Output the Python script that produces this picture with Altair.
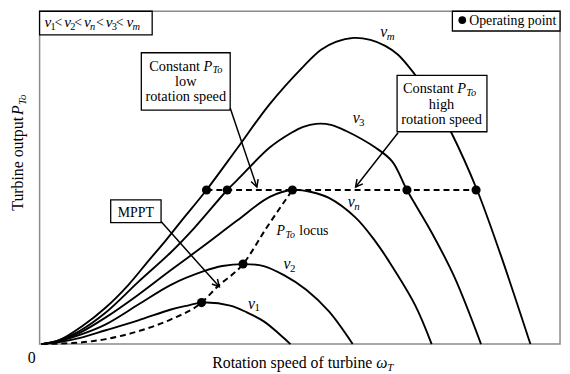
import math
import altair as alt
import pandas as pd

FONT = "Liberation Serif"

# ---- curve points (x: rotation speed, y: turbine output) ----
v1_x = [2, 20, 40, 67, 100, 133, 150, 165, 193, 210, 227, 243, 254]
v1_y = [0, 2, 6, 14, 24, 35, 39, 42, 39, 32, 23, 10, 0]
v2_x = [2, 20, 40, 67, 100, 133, 167, 185, 206, 227, 247, 270, 293, 317]
v2_y = [0, 3, 9, 20, 40, 60, 74, 79, 81, 79, 70, 55, 33, 0]
vn_x = [2, 20, 40, 67, 100, 133, 167, 200, 233, 256, 275, 293, 320, 340, 353, 380, 397]
vn_y = [0, 3, 11, 27, 50, 75, 100, 125, 149, 156, 154, 148, 128, 104, 85, 40, 0]
v3_x = [2, 20, 40, 67, 100, 133, 157, 190, 200, 233, 255, 267, 280, 295, 310, 340, 357, 372, 397, 420, 447]
v3_y = [0, 4, 13, 32, 63, 93, 118, 156, 166, 199, 214, 220, 223, 222, 216, 199, 185, 156, 113, 68, 0]
vm_x = [2, 20, 43, 67, 90, 110, 127, 143, 169, 200, 233, 267, 285, 300, 318, 335, 350, 363, 380, 400, 417, 443, 467, 497]
vm_y = [0, 4, 18, 37, 60, 84, 104, 124, 156, 198, 243, 281, 298, 306, 310, 308, 302, 293, 273, 245, 214, 156, 90, 0]
locus_x = [2, 33, 67, 100, 133, 164, 180, 206, 230, 256]
locus_y = [0, 1, 5, 13, 25, 42, 58, 81, 118, 156]
const_x = [169, 442]
const_y = [156, 156]

# operating points
op_x = [164, 206, 256, 169, 190, 372, 442]
op_y = [42, 81, 156, 156, 156, 156, 156]

# annotation boxes (x, x2, y, y2)
box_x = [0, 418, 103, 362, 72]
box_x2 = [114, 527, 193, 453, 123]
box_y = [313, 317, 237, 215, 123]
box_y2 = [337, 337, 295, 272, 146]

# arrows (start -> tip)
arr_x = [193, 363, 123]
arr_y = [239, 214, 124]
arr_x2 = [220, 320, 182]
arr_y2 = [159, 159, 58]

XS = alt.Scale(domain=[0, 527], nice=False, zero=False)
YS = alt.Scale(domain=[0, 337], nice=False, zero=False)


def enc(ch):
    return ch.encode(
        x=alt.X("x:Q", scale=XS, axis=None),
        y=alt.Y("y:Q", scale=YS, axis=None),
    )


def curve(xs, ys, dash=None, interp="catmull-rom"):
    kw = dict(interpolate=interp, color="black", strokeWidth=1.9)
    if dash:
        kw["strokeDash"] = dash
        kw["strokeWidth"] = 2
    return enc(alt.Chart(pd.DataFrame({"x": xs, "y": ys})).mark_line(**kw))


layers = []
for xs, ys in [(v1_x, v1_y), (v2_x, v2_y), (vn_x, vn_y), (v3_x, v3_y), (vm_x, vm_y)]:
    layers.append(curve(xs, ys))
layers.append(curve(locus_x, locus_y, dash=[6, 4], interp="monotone"))
layers.append(curve(const_x, const_y, dash=[6, 4], interp="linear"))

# boxes drawn over the curves
boxes = pd.DataFrame({"x": box_x, "x2": box_x2, "y": box_y, "y2": box_y2})
layers.append(
    alt.Chart(boxes).mark_rect(fill="white", stroke="black", strokeWidth=1.3).encode(
        x=alt.X("x:Q", scale=XS, axis=None), x2="x2:Q",
        y=alt.Y("y:Q", scale=YS, axis=None), y2="y2:Q",
    )
)

# operating points
layers.append(enc(alt.Chart(pd.DataFrame({"x": op_x, "y": op_y})).mark_point(
    shape="circle", filled=True, color="black", size=85, opacity=1)))
layers.append(enc(alt.Chart(pd.DataFrame({"x": [428], "y": [328]})).mark_point(
    shape="circle", filled=True, color="black", size=60, opacity=1)))

# arrows
arrows = pd.DataFrame({"x": arr_x, "y": arr_y, "x2": arr_x2, "y2": arr_y2})
layers.append(alt.Chart(arrows).mark_rule(color="black", strokeWidth=1.5).encode(
    x=alt.X("x:Q", scale=XS, axis=None), x2="x2:Q",
    y=alt.Y("y:Q", scale=YS, axis=None), y2="y2:Q",
))
for a, b, c, d in zip(arr_x, arr_y, arr_x2, arr_y2):
    ang = math.degrees(math.atan2(c - a, (d - b))) % 360
    layers.append(enc(alt.Chart(pd.DataFrame({"x": [c], "y": [d]})).mark_point(
        shape="M-0.8,1.5L0,0L0.8,1.5", filled=False, color="black", strokeWidth=1.5,
        size=90, angle=ang, opacity=1)))

# ---- text segments: (text, x, y, size, style, align, dy, angle) ----
segs = []


def vlabel(sub, x, y, sub_italic=False, vsize=16, ssize=11, gap=6.5):
    segs.append(("v", x, y, vsize, "italic", "left", 0, 0))
    segs.append((sub, x + gap, y, ssize, "italic" if sub_italic else "normal", "left", 3, 0))


# inequality box
for sub, xv, lt, it in [("1", 5, 15, False), ("2", 25, 35, False), ("n", 45, 57, True),
                        ("3", 67, 77, False), ("m", 88, None, True)]:
    vlabel(sub, xv, 321, sub_italic=it, vsize=15.5, ssize=10.5, gap=6)
    if lt is not None:
        segs.append(("<", lt, 321, 14, "normal", "left", 0, 0))

# legend text
segs.append(("Operating point", 435, 323, 14, "normal", "left", 0, 0))

# constant P boxes
for xc, xs0, xp, xt, yb in [(148, 111, 166, 175, 277), (407, 368, 423, 432, 254)]:
    segs.append(("Constant", xs0, yb, 14.5, "normal", "left", 0, 0))
    segs.append(("P", xp, yb, 14.5, "italic", "left", 0, 0))
    segs.append(("To", xt, yb, 10.5, "italic", "left", 3, 0))
    segs.append(("low" if xc < 200 else "high", xc, yb - 15.5, 14.5, "normal", "center", 0, 0))
    segs.append(("rotation speed", xc, yb - 31, 14.5, "normal", "center", 0, 0))

segs.append(("MPPT", 97.5, 129, 14, "normal", "center", 0, 0))

# locus label
segs.append(("P", 240, 110, 14, "italic", "left", 0, 0))
segs.append(("To", 249, 110, 10, "italic", "left", 3, 0))
segs.append(("locus", 263, 110, 14, "normal", "left", 0, 0))

# curve labels
vlabel("m", 345, 311, sub_italic=True)
vlabel("3", 317, 224)
vlabel("n", 312, 139, sub_italic=True)
vlabel("2", 247, 76)
vlabel("1", 211, 36)

# axis titles
segs.append(("Rotation speed of turbine", 337, -24, 16, "normal", "right", 0, 0))
segs.append(("\u03c9", 341, -24, 16, "italic", "left", 0, 0))
segs.append(("T", 352, -24, 11, "italic", "left", 3, 0))
segs.append(("0", -8, -19, 16, "normal", "center", 0, 0))
segs.append(("Turbine output", -16.5, 230, 16, "normal", "right", 0, 270))
segs.append(("P", -16.5, 232, 16, "italic", "left", 0, 270))
segs.append(("To", -16.5, 242, 11, "italic", "left", 3, 270))

tdf = pd.DataFrame(segs, columns=["text", "x", "y", "size", "style", "align", "dy", "angle"])
for (style, align, dy, angle), g in tdf.groupby(["style", "align", "dy", "angle"]):
    layers.append(alt.Chart(g).mark_text(
        font=FONT, fontStyle=style, align=align, baseline="alphabetic",
        dy=float(dy), angle=float(angle), color="black",
    ).encode(
        x=alt.X("x:Q", scale=XS, axis=None),
        y=alt.Y("y:Q", scale=YS, axis=None),
        text="text:N",
        size=alt.Size("size:Q", scale=None, legend=None),
    ))

chart = alt.layer(*layers).properties(
    width=527, height=337,
    padding={"left": 32, "top": 1, "right": 2, "bottom": 27},
    autosize=alt.AutoSizeParams(type="none"),
    background="white",
).configure_view(stroke="#8a8a8a", strokeWidth=1.5)

chart.save("out.html", embed_options={"renderer": "svg", "actions": False})
